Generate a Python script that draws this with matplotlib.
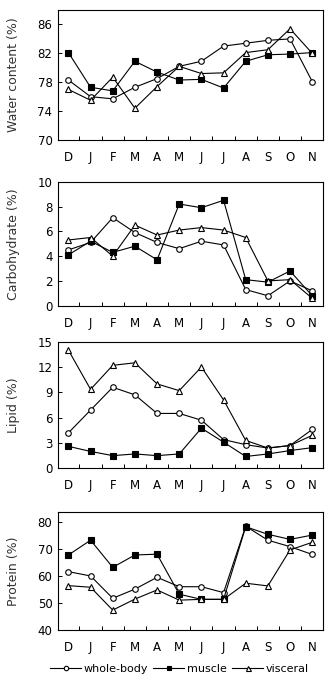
import matplotlib
matplotlib.use('Agg')
import matplotlib.pyplot as plt
import numpy as np

plt.rcParams['font.family'] = ['DejaVu Sans']
plt.rcParams['font.size'] = 8.5

months = ['D', 'J', 'F', 'M', 'A', 'M', 'J', 'J', 'A', 'S', 'O', 'N']

# water content (%)
water_whole = [78.3, 76.0, 75.7, 77.3, 78.5, 80.2, 80.9, 83.0, 83.4, 83.8, 84.0, 78.1]
water_muscle = [82.1, 77.3, 76.8, 80.9, 79.4, 78.3, 78.4, 77.2, 80.9, 81.8, 81.9, 82.1]
water_visceral = [77.0, 75.5, 78.7, 74.4, 77.4, 80.2, 79.2, 79.3, 82.1, 82.5, 85.4, 82.0]

# carbohydrate (%)
carb_whole = [4.5, 5.1, 7.1, 5.9, 5.1, 4.6, 5.2, 4.9, 1.3, 0.8, 2.0, 1.2]
carb_muscle = [4.1, 5.2, 4.3, 4.8, 3.7, 8.2, 7.9, 8.5, 2.1, 1.9, 2.8, 0.8]
carb_visceral = [5.3, 5.5, 4.0, 6.5, 5.7, 6.1, 6.3, 6.1, 5.5, 2.0, 2.1, 0.6]

# lipid (%)
lipid_whole = [4.2, 6.9, 9.6, 8.7, 6.5, 6.5, 5.7, 3.4, 2.8, 2.4, 2.7, 4.6]
lipid_muscle = [2.6, 2.0, 1.5, 1.7, 1.5, 1.7, 4.75, 3.1, 1.4, 1.7, 2.1, 2.45]
lipid_visceral = [14.0, 9.35, 12.2, 12.5, 10.0, 9.2, 12.0, 8.1, 3.3, 2.4, 2.7, 3.9]

# protein (%)
prot_whole = [61.7, 60.1, 51.8, 55.2, 59.6, 56.1, 56.1, 53.9, 78.6, 73.4, 71.0, 68.1]
prot_muscle = [67.9, 73.4, 63.3, 67.9, 68.2, 53.3, 51.4, 51.4, 78.4, 75.6, 73.7, 75.3]
prot_visceral = [56.5, 55.9, 47.4, 51.5, 54.9, 51.1, 51.4, 51.4, 57.4, 56.4, 69.8, 72.6]

panels = [
    ('Water content (%)', water_whole, water_muscle, water_visceral, (70, 88), [70, 74, 78, 82, 86]),
    ('Carbohydrate (%)', carb_whole, carb_muscle, carb_visceral, (0, 10), [0, 2, 4, 6, 8, 10]),
    ('Lipid (%)', lipid_whole, lipid_muscle, lipid_visceral, (0, 15), [0, 3, 6, 9, 12, 15]),
    ('Protein (%)', prot_whole, prot_muscle, prot_visceral, (40, 84), [40, 50, 60, 70, 80]),
]

W, H = 326, 676
# axes boxes in pixels: (top, bottom)
boxes = [(10, 140), (181.7, 305.7), (341.7, 468.3), (511.7, 630)]
left, right = 58, 323.3

fig = plt.figure(figsize=(W / 100, H / 100), dpi=100)
x = np.arange(len(months))

for (label, wb, mu, vi, ylim, yticks), (top, bot) in zip(panels, boxes):
    ax = fig.add_axes([left / W, 1 - bot / H, (right - left) / W, (bot - top) / H])
    ax.plot(x, wb, '-o', color='black', mfc='white', mec='black', ms=4, lw=0.8, mew=0.8, label='whole-body')
    ax.plot(x, mu, '-s', color='black', mfc='black', mec='black', ms=4, lw=0.8, mew=0.8, label='muscle')
    ax.plot(x, vi, '-^', color='black', mfc='white', mec='black', ms=4.5, lw=0.8, mew=0.8, label='visceral')
    ax.set_xlim(-0.47, 11.5)
    ax.set_ylim(*ylim)
    ax.set_yticks(yticks)
    ax.set_xticks(x)
    ax.set_xticklabels(months)
    ax.set_xticks(x[:-1] + 0.5, minor=True)
    ax.tick_params(axis='x', which='major', length=0, pad=8)
    ax.tick_params(axis='x', which='minor', direction='in', length=3, width=0.7)
    ax.tick_params(axis='y', direction='in', length=3, width=0.7, pad=4)
    for s in ax.spines.values():
        s.set_linewidth(0.8)
    ax.set_ylabel(label, color='#333333', fontsize=9)
    ax.yaxis.set_label_coords(-0.145, 0.5)

handles, labels = ax.get_legend_handles_labels()
fig.legend(handles, labels, loc='center', bbox_to_anchor=(0.55, 1 - 669 / H), ncol=3,
           frameon=False, handlelength=2.8, handletextpad=0.2, columnspacing=0.5,
           markerscale=0.8, fontsize=8)

fig.savefig('out.png', dpi=100)
